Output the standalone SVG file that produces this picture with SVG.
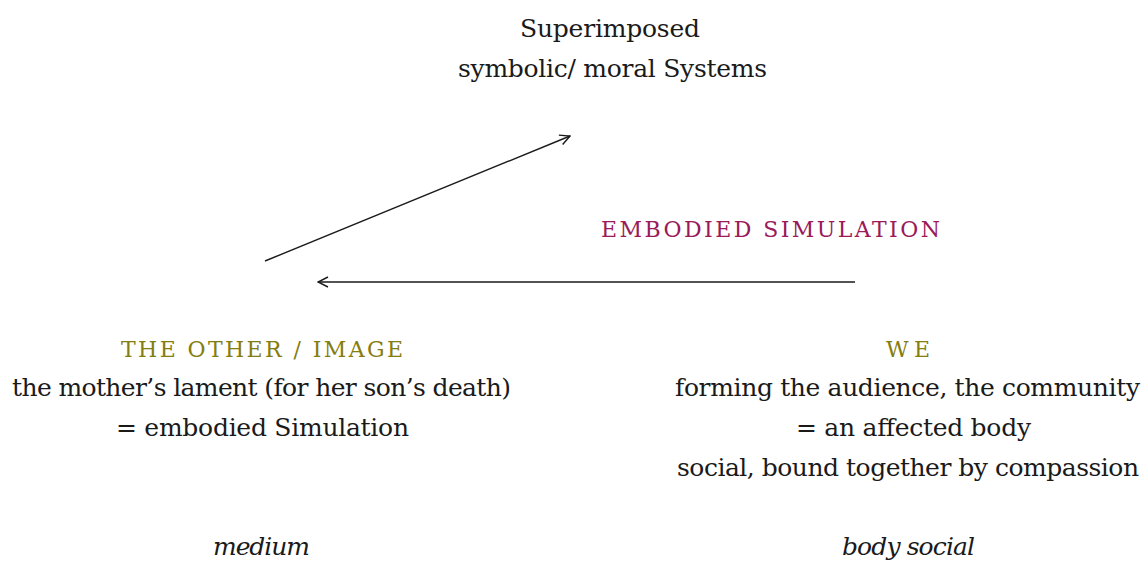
<svg xmlns="http://www.w3.org/2000/svg" width="1144" height="562" viewBox="0 0 1144 562">
<style>
text{font-family:"DejaVu Serif",serif;font-size:25px;fill:#1a1a1a;text-anchor:middle}
.ol{fill:#857d10;font-size:22px}
.mg{fill:#9a1a5a;font-size:22px}
.it{font-style:italic}
.c{stroke:#1a1a1a;stroke-width:1.4;fill:none}
</style>
<defs>
<marker id="ah" viewBox="0 0 12 12" refX="11" refY="6" markerWidth="12" markerHeight="12" markerUnits="userSpaceOnUse" orient="auto">
<path d="M1,1 L11,6 L1,11" fill="none" stroke="#1a1a1a" stroke-width="1.4"/>
</marker>
</defs>
<rect width="1144" height="562" fill="#fff"/>
<g id="connectors">
<line class="c" x1="265" y1="261" x2="570" y2="136" marker-end="url(#ah)"/>
<line class="c" x1="855" y1="282" x2="318" y2="282" marker-end="url(#ah)"/>
</g>
<g id="systems">
<text x="610" y="37" textLength="180" lengthAdjust="spacing">Superimposed</text>
<text x="612.5" y="77" textLength="309" lengthAdjust="spacing">symbolic/ moral Systems</text>
</g>
<g id="label-embodied">
<text class="mg" x="770.5" y="237" textLength="339" lengthAdjust="spacing">EMBODIED SIMULATION</text>
</g>
<g id="other">
<text class="ol" x="262" y="357" textLength="282" lengthAdjust="spacing">THE OTHER / IMAGE</text>
<text x="261.5" y="396" textLength="499" lengthAdjust="spacing">the mother’s lament (for her son’s death)</text>
<text x="262.5" y="436" textLength="293" lengthAdjust="spacing">= embodied Simulation</text>
<text class="it" x="261.5" y="555" textLength="97" lengthAdjust="spacing">medium</text>
</g>
<g id="we">
<text class="ol" x="908" y="357" textLength="44" lengthAdjust="spacing">WE</text>
<text x="907.5" y="396" textLength="465" lengthAdjust="spacing">forming the audience, the community</text>
<text x="913.5" y="436" textLength="235" lengthAdjust="spacing">= an affected body</text>
<text x="908" y="476" textLength="462" lengthAdjust="spacing">social, bound together by compassion</text>
<text class="it" x="908.5" y="555" textLength="133" lengthAdjust="spacing">body social</text>
</g>
</svg>
